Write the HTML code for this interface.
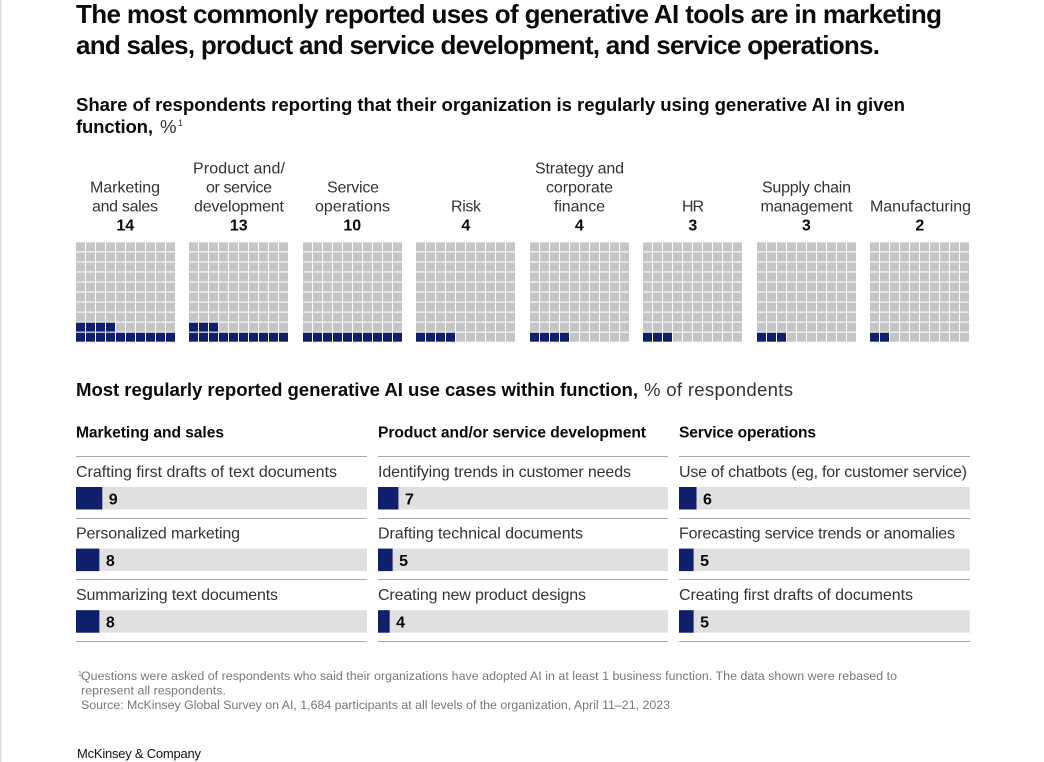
<!DOCTYPE html>
<html lang="en">
<head>
<meta charset="utf-8">
<title>Generative AI use by function</title>
<style>
html,body{margin:0;padding:0;background:#fff;}
body{width:1044px;height:762px;overflow:hidden;}
svg{display:block;font-family:"Liberation Sans",sans-serif;}
.title{font-size:26px;font-weight:700;fill:#0a0a0a;}
.sub{font-size:18.6px;font-weight:700;fill:#0a0a0a;}
.subl{font-size:18.6px;fill:#333;}
.lab{font-size:16px;fill:#333;text-anchor:middle;}
.val{font-size:16px;font-weight:700;fill:#0a0a0a;}
.head{font-size:15.6px;font-weight:700;fill:#0a0a0a;}
.item{font-size:16px;fill:#333;}
.foot{font-size:12.4px;fill:#777;}
.brand{font-size:13px;fill:#111;}
</style>
</head>
<body>
<svg id="chart" width="1044" height="762" viewBox="0 0 1044 762" xmlns="http://www.w3.org/2000/svg">
<rect x="0" y="0" width="1.5" height="762" fill="#dcdcdc"/>

<text class="title" x="76" y="23" textLength="866">The most commonly reported uses of generative AI tools are in marketing</text>
<text class="title" x="76" y="54" textLength="804">and sales, product and service development, and service operations.</text>

<text class="sub" x="76" y="111" textLength="829">Share of respondents reporting that their organization is regularly using generative AI in given</text>
<text class="sub" x="76" y="133" textLength="77">function,</text>
<text class="subl" x="160" y="133" textLength="18">%</text>
<text x="178" y="126" font-size="9" fill="#333">1</text>

<g>
<text class="lab" x="125" y="192.500" textLength="70">Marketing</text>
<text class="lab" x="125" y="211.500" textLength="66">and sales</text>
<text class="lab" x="239" y="173.500" textLength="92">Product and/</text>
<text class="lab" x="239" y="192.500" textLength="66">or service</text>
<text class="lab" x="239" y="211.500" textLength="90">development</text>
<text class="lab" x="353" y="192.500" textLength="52">Service</text>
<text class="lab" x="352.500" y="211.500" textLength="75">operations</text>
<text class="lab" x="466" y="211.500" textLength="30">Risk</text>
<text class="lab" x="579.500" y="173.500" textLength="89">Strategy and</text>
<text class="lab" x="579.500" y="192.500" textLength="67">corporate</text>
<text class="lab" x="579.500" y="211.500" textLength="51">finance</text>
<text class="lab" x="693" y="211.500" textLength="22">HR</text>
<text class="lab" x="806.500" y="192.500" textLength="89">Supply chain</text>
<text class="lab" x="806.500" y="211.500" textLength="92">management</text>
<text class="lab" x="920.500" y="211.500" textLength="101">Manufacturing</text>
</g>
<g id="waffles"></g>

<text class="sub" x="76" y="396" textLength="562">Most regularly reported generative AI use cases within function,</text>
<text class="subl" x="644" y="396" textLength="149">% of respondents</text>

<text class="head" x="76" y="437.500" textLength="148">Marketing and sales</text>
<text class="head" x="378" y="437.500" textLength="268">Product and/or service development</text>
<text class="head" x="679" y="437.500" textLength="137">Service operations</text>

<g id="bars"></g>

<g>
<text class="item" x="76" y="477" textLength="261">Crafting first drafts of text documents</text>
<text class="item" x="76" y="538.500" textLength="164">Personalized marketing</text>
<text class="item" x="76" y="600" textLength="202">Summarizing text documents</text>
<text class="item" x="378" y="477" textLength="253">Identifying trends in customer needs</text>
<text class="item" x="378" y="538.500" textLength="205">Drafting technical documents</text>
<text class="item" x="378" y="600" textLength="208">Creating new product designs</text>
<text class="item" x="679" y="477" textLength="288">Use of chatbots (eg, for customer service)</text>
<text class="item" x="679" y="538.500" textLength="276">Forecasting service trends or anomalies</text>
<text class="item" x="679" y="600" textLength="234">Creating first drafts of documents</text>
</g>

<text x="78" y="676" font-size="7" fill="#777">1</text>
<text class="foot" x="81" y="680" textLength="816">Questions were asked of respondents who said their organizations have adopted AI in at least 1 business function. The data shown were rebased to</text>
<text class="foot" x="81" y="694.500" textLength="145">represent all respondents.</text>
<text class="foot" x="81" y="709" textLength="589">Source: McKinsey Global Survey on AI, 1,684 participants at all levels of the organization, April 11–21, 2023</text>
<text class="brand" x="77" y="758" textLength="124">McKinsey &amp; Company</text>
</svg>

<script>
const functionValues = [14, 13, 10, 4, 4, 3, 3, 2];
const marketingValues = [9, 8, 8];
const productValues = [7, 5, 4];
const serviceValues = [6, 5, 5];

const NS = 'http://www.w3.org/2000/svg';
const NAVY = '#0f1f6b';
const waffleRoot = document.getElementById('waffles');
const barRoot = document.getElementById('bars');

function waffleLeft(i) { return Math.floor(76 + i * 113.5); }
function numberCenter(i) { return 125.3 + i * 113.5; }
function cellX(col) { return col * 10; }
function cellY(row) { return 332.7 - row * 10.04; }
function barWidth(v) { return v * 2.92; }
function rowTop(r) { return 456 + r * 61.6; }

function make(tag, attrs) {
  const el = document.createElementNS(NS, tag);
  for (const k in attrs) el.setAttribute(k, attrs[k]);
  return el;
}

functionValues.forEach(function (value, i) {
  const group = make('g', {});
  
  
  const left = waffleLeft(i);
  const number = make('text', { class: 'val', x: numberCenter(i), y: 230.5, 'text-anchor': 'middle' });
  
  
  number.textContent = value;
  group.appendChild(number);
  for (let row = 0; row < 10; row++) {
    for (let col = 0; col < 10; col++) {
      const filled = row * 10 + col < value;
      const cell = make('rect', {
        x: left + cellX(col),
        y: cellY(row),
        width: 9,
        height: 9,
        fill: filled ? NAVY : '#c5c5c5'
      });
      
      
      group.appendChild(cell);
    }
  }
  waffleRoot.appendChild(group);
});

function drawPanel(values, left, width) {
  for (let r = 0; r <= values.length; r++) {
    const rule = make('rect', { x: left, y: Math.round(rowTop(r)), width: width, height: 1, fill: '#a8a8a8' });
    
    
    barRoot.appendChild(rule);
  }
  values.forEach(function (value, r) {
    const top = rowTop(r) + 31;
    const track = make('rect', { x: left, y: top, width: width, height: 22.5, fill: '#e0e0e0' });
    
    
    barRoot.appendChild(track);
    const bar = make('rect', { x: left, y: top, width: barWidth(value), height: 22.5, fill: NAVY });
    
    
    barRoot.appendChild(bar);
    const label = make('text', { class: 'val', x: left + barWidth(value) + 6.5, y: top + 17.5 });
    
    
    label.textContent = value;
    barRoot.appendChild(label);
  });
}

drawPanel(marketingValues, 76, 291);
drawPanel(productValues, 378, 290);
drawPanel(serviceValues, 679, 291);
</script>
</body>
</html>
